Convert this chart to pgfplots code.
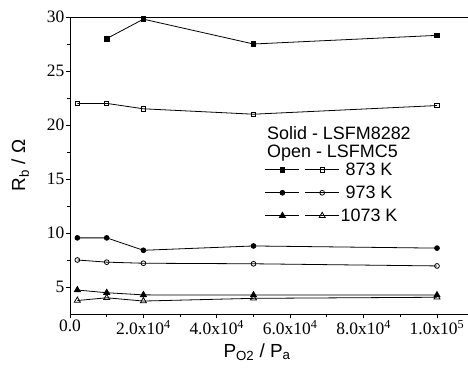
\documentclass[border=0pt]{standalone}
\usepackage{pgfplots}
\pgfplotsset{compat=1.18}
\usepackage{fontspec}
\setmainfont{Liberation Sans}
\newfontfamily\tnr{Liberation Serif}
\begin{document}
\begin{tikzpicture}
\begin{axis}[
  at={(0,0)}, anchor=south west, scale only axis,
  width=398bp, height=297bp,
  xmin=0, xmax=108450, ymin=2.5, ymax=30,
  axis x line*=bottom, axis y line*=left,
  axis line style={black, line width=1pt},
  xtick={0,20000,40000,60000,80000,100000},
  xticklabels={0.0, 2.0x10\textsuperscript{4}, 4.0x10\textsuperscript{4}, 6.0x10\textsuperscript{4}, 8.0x10\textsuperscript{4}, 1.0x10\textsuperscript{5}},
  minor x tick num=1,
  ytick={5,10,15,20,25,30},
  yticklabels={5,10,15,20,25,30},
  minor y tick num=1,
  tick align=outside, major tick length=4bp, minor tick length=2.5bp,
  tick style={black, line width=0.8pt},
  ticklabel style={font=\tnr\fontsize{17.5}{19}\selectfont},
  xticklabel style={inner sep=2bp},
  yticklabel style={inner sep=1.5bp},
  scaled x ticks=false,
  xlabel={P\textsubscript{O2} / P\textsubscript{a}},
  ylabel={R\textsubscript{b} / Ω},
  label style={font=\fontsize{19}{21}\selectfont},
  xlabel style={at={(axis description cs:0.47,-0.128)}, anchor=center},
  ylabel style={at={(axis description cs:-0.125,0.5)}, anchor=center},
  legend columns=2,
  legend style={draw=none, fill=none, at={(axis description cs:0.482,0.52)}, anchor=north west,
    font=\fontsize{18}{20}\selectfont, nodes={inner sep=1bp}, row sep=7bp},
  legend image code/.code={\draw[mark repeat=2,mark phase=2,#1] plot coordinates {(0bp,0bp) (17bp,0bp) (34bp,0bp)};},
  /tikz/every even column/.append style={column sep=3bp},
  every axis plot/.append style={black, line width=0.8pt},
]
\addplot[mark=square*, mark size=2.4bp] coordinates {(10000,28.0) (20000,29.8) (50000,27.5) (100000,28.3)};
\addlegendentry{}
\addplot[mark=square, mark size=2.2bp, mark options={fill=white}] coordinates {(2000,22.0) (10000,22.0) (20000,21.5) (50000,21.0) (100000,21.8)};
\addlegendentry{873 K}
\addplot[mark=*, mark size=2.4bp] coordinates {(2000,9.55) (10000,9.55) (20000,8.4) (50000,8.8) (100000,8.6)};
\addlegendentry{}
\addplot[mark=o, mark size=2.4bp, mark options={fill=white}] coordinates {(2000,7.5) (10000,7.3) (20000,7.2) (50000,7.15) (100000,6.95)};
\addlegendentry{973 K}
\addplot[mark=triangle*, mark size=3.5bp] coordinates {(2000,4.72) (10000,4.47) (20000,4.27) (50000,4.25) (100000,4.25)};
\addlegendentry{}
\addplot[mark=triangle, mark size=3.5bp, mark options={fill=white}] coordinates {(2000,3.75) (10000,4.0) (20000,3.7) (50000,3.95) (100000,4.05)};
\addlegendentry{1073 K}
\draw[black, line width=1pt] (rel axis cs:0,1) -- (rel axis cs:1,1);
\end{axis}
\node[anchor=west, inner sep=0, font=\fontsize{18}{20}\selectfont] at (197bp,181bp) {Solid - LSFM8282};
\node[anchor=west, inner sep=0, font=\fontsize{18}{20}\selectfont] at (197bp,161bp) {Open - LSFMC5};
\pgfresetboundingbox
\path (-70bp,-55bp) rectangle (398bp,314bp);
\end{tikzpicture}
\end{document}
